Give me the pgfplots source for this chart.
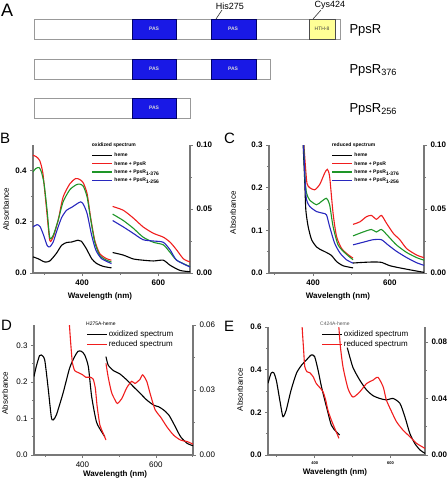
\documentclass[border=0pt]{standalone}
\usepackage{fontspec}
\setmainfont{Liberation Sans}
\usepackage{pgfplots}
\pgfplotsset{compat=1.18}
\definecolor{axgray}{RGB}{120,120,120}
\definecolor{cred}{RGB}{240,30,30}
\definecolor{cgreen}{RGB}{30,150,40}
\definecolor{cblue}{RGB}{40,40,190}
\definecolor{pasblue}{RGB}{25,25,230}
\definecolor{hthyellow}{RGB}{255,255,150}
\pgfplotsset{
  base/.style={scale only axis, clip=true, clip mode=individual, enlargelimits=false,
    scaled y ticks=false, scaled x ticks=false,
    axis line style={draw=axgray, line width=1.1pt, -},
    tick style={draw=axgray, line width=0.8pt},
    tick align=outside, major tick length=3pt, minor tick length=1.8pt,
    tick label style={font=\fontsize{8}{9}\selectfont\bfseries},
    /pgf/number format/assume math mode=true,
    xtick={400,600}, minor xtick={300,500,700}, minor y tick num=1},
  leftax/.style={base, axis x line*=bottom, axis y line*=left,
    xlabel={\bfseries Wavelength (nm)}, ylabel={Absorbance},
    label style={font=\fontsize{8}{9}\selectfont},
    yticklabel style={/pgf/number format/fixed, /pgf/number format/fixed zerofill, /pgf/number format/precision=1},
    legend image code/.code={\draw[#1] (0pt,0pt) -- (20pt,0pt);},
    legend cell align=left},
  rightax/.style={base, axis x line=none, axis y line*=right,
    yticklabel style={/pgf/number format/fixed, /pgf/number format/fixed zerofill, /pgf/number format/precision=2}},
  cl/.style={line width=1.1pt, smooth, tension=0.4},
  smallleg/.style={draw=none, fill=none, inner sep=0pt, anchor=north west,
    font=\fontsize{5}{6}\selectfont\bfseries,
    nodes={inner sep=0.5pt, text height=4pt, text depth=1.2pt},
    row sep=2.2pt, /tikz/every odd column/.append style={column sep=1.2pt}},
  bigleg/.style={draw=none, fill=none, inner sep=0pt, anchor=north west,
    font=\fontsize{8}{9}\selectfont,
    nodes={inner sep=0.5pt, text height=6pt, text depth=1.8pt},
    row sep=1.2pt, /tikz/every odd column/.append style={column sep=0.5pt}},
}
\begin{document}
\begin{tikzpicture}
\path[use as bounding box] (0pt,0pt) rectangle (448pt,-483pt);

% ---------------- Panel A ----------------
\begin{axis}[at={(0pt,0pt)}, anchor=north west, scale only axis, width=448pt, height=130pt,
  xmin=0, xmax=448, ymin=0, ymax=130, y dir=reverse, hide axis, clip=false]
\addplot[draw=gray!80, fill=white, line width=0.8pt] coordinates {(34,19) (340,19) (340,39) (34,39)} -- cycle;
\addplot[draw=blue!40!black, fill=pasblue, line width=0.6pt] coordinates {(132,19) (176,19) (176,39) (132,39)} -- cycle;
\addplot[draw=blue!40!black, fill=pasblue, line width=0.6pt] coordinates {(211,19) (256,19) (256,39) (211,39)} -- cycle;
\addplot[draw=gray!60!black, fill=hthyellow, line width=0.6pt] coordinates {(309,19) (335,19) (335,39) (309,39)} -- cycle;
\addplot[draw=gray!80, fill=white, line width=0.8pt] coordinates {(34,59) (270,59) (270,79) (34,79)} -- cycle;
\addplot[draw=blue!40!black, fill=pasblue, line width=0.6pt] coordinates {(132,59) (176,59) (176,79) (132,79)} -- cycle;
\addplot[draw=blue!40!black, fill=pasblue, line width=0.6pt] coordinates {(211,59) (256,59) (256,79) (211,79)} -- cycle;
\addplot[draw=gray!80, fill=white, line width=0.8pt] coordinates {(34,98) (190,98) (190,118) (34,118)} -- cycle;
\addplot[draw=blue!40!black, fill=pasblue, line width=0.6pt] coordinates {(132,98) (176,98) (176,118) (132,118)} -- cycle;
\addplot[draw=black!80, line width=0.6pt] coordinates {(222,10) (216,19)};
\addplot[draw=black!80, line width=0.6pt] coordinates {(321,10) (313,19)};
\node[font=\fontsize{5}{5}\selectfont\bfseries, text=gray!30] at (axis cs:154,29) {PAS};
\node[font=\fontsize{5}{5}\selectfont\bfseries, text=gray!30] at (axis cs:233,29) {PAS};
\node[font=\fontsize{5}{5}\selectfont\bfseries, text=gray!30] at (axis cs:154,69) {PAS};
\node[font=\fontsize{5}{5}\selectfont\bfseries, text=gray!30] at (axis cs:233,69) {PAS};
\node[font=\fontsize{5}{5}\selectfont\bfseries, text=gray!30] at (axis cs:154,108) {PAS};
\node[font=\fontsize{5}{5}\selectfont, text=gray!50!black] at (axis cs:322,29) {HTH-8};
\node[font=\fontsize{9}{9}\selectfont] at (axis cs:230,6) {His275};
\node[font=\fontsize{9}{9}\selectfont] at (axis cs:330,5) {Cys424};
\node[anchor=base west, font=\fontsize{13}{13}\selectfont] at (axis cs:346,33) {PpsR};
\node[anchor=base west, font=\fontsize{13}{13}\selectfont] at (axis cs:346,73) {PpsR\textsubscript{376}};
\node[anchor=base west, font=\fontsize{13}{13}\selectfont] at (axis cs:346,112.5) {PpsR\textsubscript{256}};
\end{axis}

% ---------------- Panel B ----------------
\begin{axis}[leftax, at={(33pt,-273pt)}, anchor=south west, width=157pt, height=128pt,
  xmin=271, xmax=683, ymin=0, ymax=0.5, ytick={0,0.2,0.4},
  ylabel style={at={(axis description cs:-0.172,0.5)}, anchor=center},
  xlabel style={at={(axis description cs:0.427,-0.18)}, anchor=center},
  legend style={smallleg, at={(axis description cs:0.3726,0.946)}}]
\addplot[cl, black] coordinates {(271,0.063)(284,0.056)(302,0.043)(315,0.047)(332,0.076)(346,0.108)(359,0.119)(372,0.121)(389,0.128)(398,0.124)(411,0.095)(425,0.056)(438,0.037)(455,0.026)(477,0.020)};
\addlegendentry{heme}
\addplot[cl, cred] coordinates {(271,0.460)(280,0.454)(289,0.438)(297,0.389)(306,0.258)(315,0.128)(324,0.141)(337,0.206)(350,0.297)(368,0.349)(383,0.369)(394,0.365)(403,0.352)(413,0.310)(422,0.219)(433,0.128)(446,0.076)(464,0.056)(477,0.050)};
\addlegendentry{heme + PpsR}
\addplot[cl, cgreen] coordinates {(271,0.395)(278,0.408)(287,0.412)(293,0.395)(300,0.349)(308,0.245)(315,0.138)(324,0.147)(337,0.206)(350,0.278)(368,0.326)(385,0.345)(394,0.347)(403,0.339)(413,0.297)(422,0.213)(433,0.121)(446,0.069)(464,0.050)(477,0.043)};
\addlegendentry{heme + PpsR\textsubscript{1-376}}
\addplot[cl, cblue] coordinates {(271,0.180)(282,0.189)(290,0.180)(299,0.147)(308,0.108)(315,0.102)(324,0.121)(334,0.167)(346,0.216)(359,0.245)(372,0.256)(385,0.269)(396,0.278)(403,0.269)(413,0.232)(425,0.147)(436,0.089)(451,0.056)(477,0.037)};
\addlegendentry{heme + PpsR\textsubscript{1-256}}
\node[anchor=west, font=\fontsize{5}{6}\selectfont\bfseries, inner sep=0pt] at (axis description cs:0.374,1.0) {oxidized spectrum};
\end{axis}
\begin{axis}[rightax, at={(33pt,-273pt)}, anchor=south west, width=157pt, height=128pt,
  xmin=271, xmax=683, ymin=0, ymax=0.1, ytick={0,0.05,0.1}]
\addplot[cl, black] coordinates {(480,0.016)(508,0.014)(534,0.011)(560,0.010)(587,0.0094)(613,0.010)(631,0.006)(657,0.002)(683,0.001)};
\addplot[cl, cred] coordinates {(480,0.052)(508,0.049)(534,0.043)(560,0.036)(587,0.031)(613,0.028)(631,0.024)(648,0.018)(666,0.011)(683,0.0086)};
\addplot[cl, cgreen] coordinates {(480,0.046)(508,0.041)(534,0.035)(560,0.028)(587,0.024)(613,0.022)(631,0.016)(648,0.010)(683,0.005)};
\addplot[cl, cblue] coordinates {(480,0.041)(508,0.036)(534,0.031)(560,0.026)(587,0.025)(613,0.024)(631,0.018)(648,0.010)(683,0.0047)};
\end{axis}

% ---------------- Panel C ----------------
\begin{axis}[leftax, at={(269pt,-273pt)}, anchor=south west, width=155pt, height=128pt,
  xmin=285, xmax=689, ymin=0, ymax=0.3, ytick={0,0.1,0.2,0.3},
  ylabel style={at={(axis description cs:-0.232,0.47)}, anchor=center},
  xlabel style={at={(axis description cs:0.445,-0.18)}, anchor=center},
  legend style={smallleg, at={(axis description cs:0.403,0.946)}}]
\addplot[cl, black] coordinates {(372,0.34)(374,0.30)(378,0.218)(381,0.148)(387,0.109)(396,0.078)(409,0.061)(417,0.056)(435,0.048)(448,0.041)(461,0.027)(478,0.017)(504,0.012)};
\addlegendentry{heme}
\addplot[cl, cred] coordinates {(373,0.34)(376,0.30)(380,0.25)(384,0.21)(391,0.200)(404,0.195)(417,0.207)(430,0.234)(437,0.243)(443,0.226)(452,0.14)(461,0.086)(474,0.058)(491,0.043)(504,0.035)};
\addlegendentry{heme + PpsR}
\addplot[cl, cgreen] coordinates {(373,0.34)(376,0.29)(379,0.22)(383,0.187)(391,0.171)(409,0.160)(422,0.168)(435,0.175)(443,0.16)(452,0.109)(465,0.066)(483,0.047)(504,0.031)};
\addlegendentry{heme + PpsR\textsubscript{1-376}}
\addplot[cl, cblue] coordinates {(373,0.34)(376,0.28)(380,0.2)(383,0.171)(391,0.156)(409,0.144)(426,0.14)(435,0.136)(443,0.109)(456,0.07)(470,0.047)(487,0.031)(504,0.023)};
\addlegendentry{heme + PpsR\textsubscript{1-256}}
\node[anchor=west, font=\fontsize{5}{6}\selectfont\bfseries, inner sep=0pt] at (axis description cs:0.405,1.0) {reduced spectrum};
\end{axis}
\begin{axis}[rightax, at={(269pt,-273pt)}, anchor=south west, width=155pt, height=128pt,
  xmin=285, xmax=689, ymin=0, ymax=0.1, ytick={0,0.05,0.1}]
\addplot[cl, black] coordinates {(504,0.0078)(530,0.0083)(556,0.0086)(578,0.0083)(600,0.0057)(626,0.004)(661,0.002)(689,0.0005)};
\addplot[cl, cred] coordinates {(504,0.038)(522,0.040)(539,0.044)(552,0.045)(565,0.042)(578,0.045)(591,0.039)(609,0.031)(626,0.026)(644,0.019)(670,0.014)(689,0.012)};
\addplot[cl, cgreen] coordinates {(504,0.029)(530,0.032)(552,0.034)(565,0.032)(578,0.034)(595,0.029)(617,0.022)(644,0.016)(670,0.012)(689,0.010)};
\addplot[cl, cblue] coordinates {(504,0.022)(530,0.024)(556,0.026)(578,0.026)(595,0.022)(617,0.017)(644,0.012)(670,0.008)(689,0.006)};
\end{axis}

% ---------------- Panel D ----------------
\begin{axis}[leftax, at={(34pt,-455pt)}, anchor=south west, width=159pt, height=130pt,
  xmin=268, xmax=701, ymin=0, ymax=0.356, ytick={0,0.1,0.2,0.3},
  tick label style={font=\fontsize{8}{9}\selectfont},
  ylabel style={at={(axis description cs:-0.182,0.477)}, anchor=center},
  xlabel style={at={(axis description cs:0.51,-0.146)}, anchor=center},
  legend style={bigleg, at={(axis description cs:0.33,0.965)}}]
\addplot[cl, black] coordinates {(268,0.215)(274,0.242)(283,0.272)(288,0.274)(297,0.261)(306,0.188)(315,0.105)(320,0.096)(329,0.110)(347,0.169)(365,0.238)(379,0.270)(388,0.284)(397,0.284)(406,0.274)(416,0.242)(425,0.160)(438,0.091)(452,0.064)(461,0.050)};
\addlegendentry{oxidized spectrum}
\addplot[cl, cred] coordinates {(363.5,0.37)(368,0.306)(372.6,0.252)(379,0.231)(388,0.226)(400,0.22)(409,0.213)(420,0.213)(429,0.208)(435,0.183)(440,0.133)(447.5,0.082)(456.6,0.059)(464,0.041)};
\addlegendentry{reduced spectrum}
\node[anchor=west, font=\fontsize{5}{6}\selectfont, inner sep=0pt] at (axis description cs:0.327,1.008) {H275A-heme};
\end{axis}
\begin{axis}[rightax, at={(34pt,-455pt)}, anchor=south west, width=159pt, height=130pt,
  tick label style={font=\fontsize{8}{9}\selectfont},
  xmin=268, xmax=701, ymin=0, ymax=0.06, ytick={0,0.03,0.06}]
\addplot[cl, black] coordinates {(464,0.0454)(470,0.0415)(484,0.039)(502,0.0374)(521,0.0346)(539,0.0315)(557,0.0285)(575,0.0254)(594,0.023)(607,0.0223)(621,0.0208)(635,0.0185)(648,0.0146)(667,0.0085)(685,0.0054)(701,0.0043)};
\addplot[cl, cred] coordinates {(464,0.0423)(470,0.036)(479,0.029)(488.6,0.0254)(495,0.0238)(507,0.026)(520.5,0.031)(534,0.034)(543,0.033)(557,0.035)(564,0.037)(575,0.034)(584,0.0285)(598,0.0208)(612,0.0177)(630,0.013)(648,0.0092)(667,0.0069)(685,0.0062)(701,0.005)};
\end{axis}

% ---------------- Panel E ----------------
\begin{axis}[leftax, at={(268pt,-455pt)}, anchor=south west, width=157pt, height=128pt,
  xmin=277, xmax=691, ymin=0, ymax=0.6, ytick={0,0.2,0.4,0.6},
  xticklabel style={font=\fontsize{4}{5}\selectfont\bfseries},
  ylabel style={at={(axis description cs:-0.178,0.51)}, anchor=center},
  xlabel style={at={(axis description cs:0.427,-0.14)}, anchor=center},
  legend style={bigleg, at={(axis description cs:0.341,0.98)}}]
\addplot[cl, black] coordinates {(277,0.336)(285,0.383)(292,0.386)(299,0.35)(308,0.258)(315,0.1875)(318,0.18)(325,0.21)(338,0.305)(352,0.383)(365,0.42)(378,0.445)(391,0.469)(400,0.461)(409,0.398)(418,0.32)(431,0.227)(444,0.14)(457,0.109)(466,0.094)};
\addlegendentry{oxidized spectrum}
\addplot[cl, cred] coordinates {(366,0.65)(367,0.6)(371,0.49)(374,0.414)(380,0.39)(387,0.386)(396,0.367)(404,0.336)(413,0.317)(422,0.297)(429,0.258)(435,0.21)(444,0.164)(453,0.125)(459,0.1)(464,0.078)};
\addlegendentry{reduced spectrum}
\node[anchor=west, font=\fontsize{5}{6}\selectfont, text=gray!70!black, inner sep=0pt] at (axis description cs:0.331,1.023) {C424A-heme};
\end{axis}
\begin{axis}[rightax, at={(268pt,-455pt)}, anchor=south west, width=157pt, height=128pt,
  xmin=277, xmax=691, ymin=0, ymax=0.0906, ytick={0,0.04,0.08}]
\addplot[cl, black] coordinates {(486,0.076)(488,0.074)(501,0.062)(519,0.053)(537,0.046)(554,0.042)(572,0.040)(589,0.039)(607,0.040)(625,0.0365)(638,0.027)(651,0.0153)(664,0.0082)(678,0.0035)(691,0.0012)};
\addplot[cl, cred] coordinates {(463,0.095)(464,0.09)(468,0.0765)(475,0.062)(488,0.047)(501,0.041)(519,0.0447)(537,0.0506)(554,0.053)(567,0.055)(581,0.048)(589,0.039)(603,0.0306)(616,0.0235)(633,0.0176)(651,0.013)(669,0.0082)(691,0.0047)};
\end{axis}

% panel letters
\node[anchor=west, font=\fontsize{18}{18}\selectfont, inner sep=0pt] at (1pt,-10pt) {A};
\node[anchor=west, font=\fontsize{15}{15}\selectfont, inner sep=0pt] at (0pt,-138pt) {B};
\node[anchor=west, font=\fontsize{15}{15}\selectfont, inner sep=0pt] at (224pt,-138pt) {C};
\node[anchor=west, font=\fontsize{15}{15}\selectfont, inner sep=0pt] at (1pt,-325pt) {D};
\node[anchor=west, font=\fontsize{15}{15}\selectfont, inner sep=0pt] at (224pt,-326pt) {E};
\end{tikzpicture}
\end{document}
